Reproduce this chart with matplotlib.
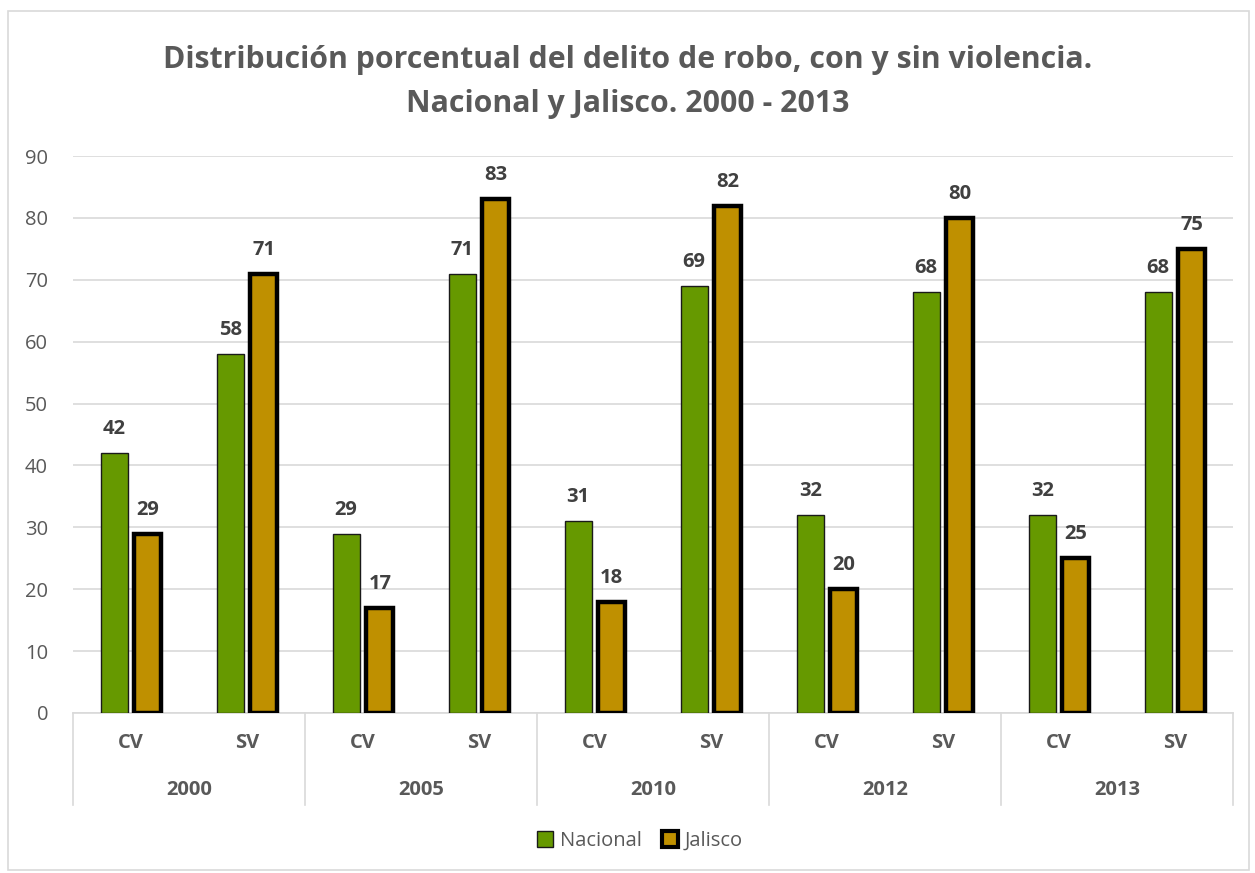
import matplotlib
matplotlib.use("Agg")
import matplotlib.pyplot as plt
from matplotlib.patches import Rectangle, Patch
import numpy as np

plt.rcParams['font.family'] = ['Open Sans', 'DejaVu Sans']

years = ["2000", "2005", "2010", "2012", "2013"]
types = ["CV", "SV"]
nacional = [42, 58, 29, 71, 31, 69, 32, 68, 32, 68]
jalisco = [29, 71, 17, 83, 18, 82, 20, 80, 25, 75]

green = "#669900"
gold = "#BF9000"
text_gray = "#595959"
label_gray = "#404040"
grid_gray = "#D9D9D9"

fig = plt.figure(figsize=(12.55, 8.73), dpi=100)
ax = fig.add_axes([0.0582, 0.1833, 0.9243, 0.638])

# outer chart frame
fig.patches.append(Rectangle((8 / 1255, 3 / 873), 1241 / 1255, 859 / 873,
                             transform=fig.transFigure, fill=False,
                             edgecolor=grid_gray, linewidth=1.2))

x = np.arange(len(nacional))
w = 0.235
off = 0.145
b1 = ax.bar(x - off, nacional, width=w, color=green, edgecolor="#1a1a1a",
            linewidth=1.0, zorder=3, label="Nacional")
b2 = ax.bar(x + off, jalisco, width=w, color=gold, edgecolor="black",
            linewidth=3.2, zorder=3, label="Jalisco")

for bars, vals in ((b1, nacional), (b2, jalisco)):
    for rect, v in zip(bars, vals):
        ax.annotate(f"{v}", (rect.get_x() + rect.get_width() / 2, v),
                    xytext=(0, 10), textcoords="offset points", ha="center",
                    va="bottom", fontsize=14.5, fontweight="bold",
                    color=label_gray)

ax.set_xlim(-0.5, len(nacional) - 0.5)
ax.set_ylim(0, 90)
ax.set_yticks(np.arange(0, 91, 10))
ax.yaxis.grid(True, color=grid_gray, linewidth=1.2, zorder=0)
ax.set_axisbelow(True)
for s in ax.spines.values():
    s.set_visible(False)
ax.tick_params(axis="y", length=0, pad=18, labelsize=14.5, labelcolor=text_gray)
ax.tick_params(axis="x", length=0, labelbottom=False)

# multi-level category axis
tr = ax.get_xaxis_transform()
ax.plot([-0.5, len(nacional) - 0.5], [0, 0], transform=tr, color=grid_gray,
        linewidth=1.2, clip_on=False, zorder=1)
for i in range(len(nacional)):
    ax.text(i, -0.054, types[i % 2], transform=tr, ha="center", va="center",
            fontsize=14.5, fontweight="bold", color=text_gray)
for g, yr in enumerate(years):
    ax.text(2 * g + 0.5, -0.138, yr, transform=tr, ha="center", va="center",
            fontsize=14.5, fontweight="bold", color=text_gray)
for k in range(len(years) + 1):
    xp = 2 * k - 0.5
    ax.plot([xp, xp], [0, -0.165], transform=tr, color=grid_gray,
            linewidth=1.2, clip_on=False)

fig.text(0.5, 1 - 82 / 873,
         "Distribución porcentual del delito de robo, con y sin violencia.\nNacional y Jalisco. 2000 - 2013",
         ha="center", va="center", fontsize=21.8, fontweight="bold",
         color=text_gray, linespacing=1.65)

handles = [Patch(facecolor=green, edgecolor="#1a1a1a", linewidth=1.0),
           Patch(facecolor=gold, edgecolor="black", linewidth=3.0)]
fig.legend(handles, ["Nacional", "Jalisco"], loc="center",
           bbox_to_anchor=(640 / 1255, 1 - 841 / 873), ncol=2, frameon=False,
           fontsize=14.5, labelcolor=text_gray, handlelength=0.8,
           handleheight=0.8, handletextpad=0.35, columnspacing=1.0)

fig.savefig("out.png", dpi=100)
